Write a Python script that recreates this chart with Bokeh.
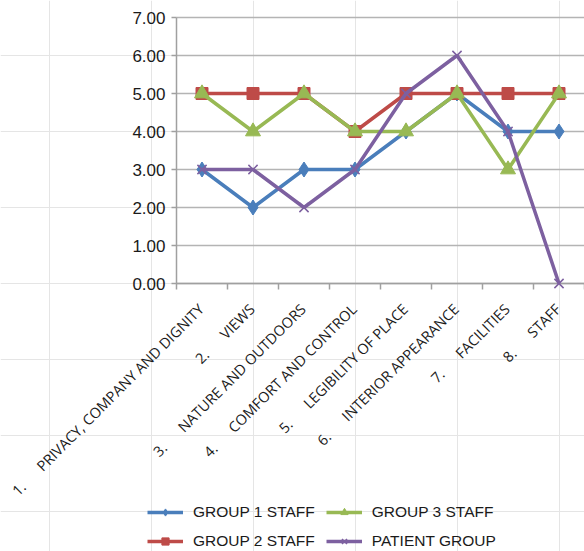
import math

from bokeh.core.properties import value
from bokeh.embed import file_html
from bokeh.models import Legend, LegendItem, Range1d
from bokeh.plotting import figure
from bokeh.resources import INLINE

# Survey themes (x axis) and mean scores per group
categories = [
    "1.      PRIVACY, COMPANY AND DIGNITY",
    "2.      VIEWS",
    "3.      NATURE AND OUTDOORS",
    "4.      COMFORT AND CONTROL",
    "5.      LEGIBILITY OF PLACE",
    "6.      INTERIOR APPEARANCE",
    "7.      FACILITIES",
    "8.      STAFF",
]
group1_staff = [3, 2, 3, 3, 4, 5, 4, 4]
group2_staff = [5, 5, 5, 4, 5, 5, 5, 5]
group3_staff = [5, 4, 5, 4, 4, 5, 3, 5]
patient_group = [3, 3, 2, 3, 5, 6, 4, 0]
y_ticks = [0, 1, 2, 3, 4, 5, 6, 7]

n = len(categories)
xs = list(range(1, n + 1))
boundaries = [x - 0.5 for x in xs] + [xs[-1] + 0.5]
# keep the gap after the item number when rendered as SVG text
cat_labels = [c.replace(" ", "\u00a0") for c in categories]
y_labels = [f"{v:.2f}" for v in y_ticks]

# Canvas geometry (pixels): plotting area and the margins around it
W, H = 584, 551
LEFT, TOP, BOTTOM = 176, 17, 268
ppu_x = (W - LEFT) / n                      # pixels per category
ppu_y = (H - TOP - BOTTOM) / y_ticks[-1]    # pixels per score unit

xa, xb = boundaries[0], boundaries[-1]
ya, yb = y_ticks[0], y_ticks[-1]

p = figure(
    width=W,
    height=H,
    x_range=Range1d(xa - LEFT / ppu_x, xb),
    y_range=Range1d(ya - BOTTOM / ppu_y, yb + TOP / ppu_y),
    output_backend="svg",
    toolbar_location=None,
    x_axis_location=None,
    y_axis_location=None,
    min_border=0,
    min_border_left=0,
    min_border_right=0,
    min_border_top=0,
    min_border_bottom=0,
)
p.outline_line_color = None
p.background_fill_color = "white"
p.border_fill_color = "white"

AXIS_GREY = "#a0a0a0"
GRID_GREY = "#b4b4b4"
ny = len(y_ticks)
nb = len(boundaries)

# horizontal gridlines across the plotting area
p.segment(x0=[xa] * ny, y0=y_ticks, x1=[xb] * ny, y1=y_ticks,
          line_color=GRID_GREY, line_width=1.5)
# value axis line with outward tick marks
p.segment(x0=[xa], y0=[ya], x1=[xa], y1=[yb], line_color=AXIS_GREY, line_width=1.5)
p.segment(x0=[xa - 5 / ppu_x] * ny, y0=y_ticks, x1=[xa] * ny, y1=y_ticks,
          line_color=AXIS_GREY, line_width=1.5)
# category axis line with tick marks on the category boundaries
p.segment(x0=[xa], y0=[ya], x1=[xb], y1=[ya], line_color=AXIS_GREY, line_width=1.5)
p.segment(x0=boundaries, y0=[ya - 6 / ppu_y] * nb, x1=boundaries, y1=[ya] * nb,
          line_color=AXIS_GREY, line_width=1.5)

# tick labels
p.text(x=[xa] * ny, y=y_ticks, text=y_labels,
       text_align="right", text_baseline="middle", x_offset=-11,
       text_font=value("Liberation Sans"), text_font_size="17px", text_color="#1a1a1a")
p.text(x=xs, y=[ya] * n, text=cat_labels, angle=math.pi / 4,
       text_align="right", text_baseline="middle", x_offset=-1, y_offset=23,
       text_font=value("Open Sans"), text_font_size="14.5px", text_color="#1a1a1a")

series = [
    ("GROUP 1 STAFF", group1_staff, "#4a7ebb", "diamond", 15),
    ("GROUP 2 STAFF", group2_staff, "#be4b48", "square", 12),
    ("GROUP 3 STAFF", group3_staff, "#98b954", "triangle", 15),
    ("PATIENT GROUP", patient_group, "#7d60a0", "x", 13),
]

items = []
for name, vals, color, marker, size in series:
    ln = p.line(xs, vals, line_color=color, line_width=3.5)
    if marker == "x":
        sc = p.scatter(xs, vals, marker=marker, size=size, line_color=color, line_width=1.5)
    else:
        sc = p.scatter(xs, vals, marker=marker, size=size, fill_color=color, line_color=color)
    items.append(LegendItem(label=name, renderers=[ln, sc]))

# two-column key under the rotated category labels
legend = Legend(
    items=items,
    orientation="vertical",
    nrows=2,
    location=(147, 1),
    label_text_font="Liberation Sans",
    label_text_font_size="15.5px",
    label_text_color="#1a1a1a",
    glyph_width=36,
    glyph_height=18,
    label_height=18,
    label_standoff=10,
    spacing=11,
    padding=0,
    margin=0,
    border_line_color=None,
    background_fill_alpha=0,
)
p.add_layout(legend, "center")

open("out.html", "w").write(file_html(p, INLINE))
